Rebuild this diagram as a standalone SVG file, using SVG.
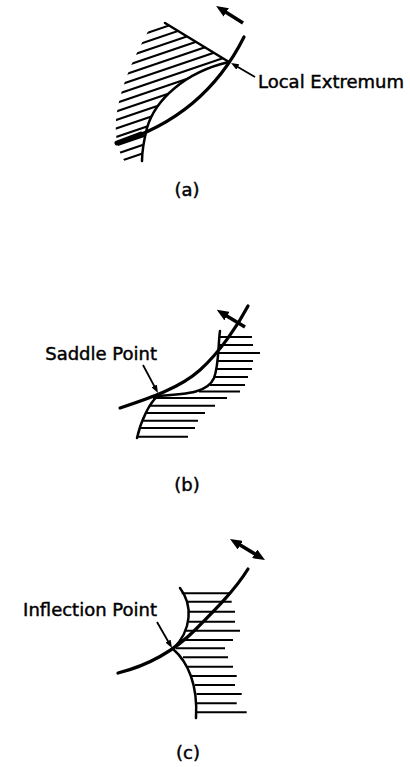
<svg xmlns="http://www.w3.org/2000/svg" width="410" height="767" viewBox="0 0 410 767">
<style>
.curve{fill:none;stroke:#000;stroke-width:3.2;stroke-linecap:round}
.bound{fill:none;stroke:#000;stroke-width:2.5;stroke-linecap:round}
.hatch{stroke:#000;stroke-width:2;fill:none}
.arrow{stroke:#000;stroke-width:3.5;fill:none}
.leader{stroke:#000;stroke-width:1.8;fill:none}
text{font-family:"DejaVu Sans","Liberation Sans",sans-serif;font-size:18px;fill:#000;stroke:#000;stroke-width:0.45}
</style>
<defs>
<marker id="bigHead" viewBox="0 0 12 10" markerWidth="12" markerHeight="10" refX="5" refY="5" orient="auto-start-reverse" markerUnits="userSpaceOnUse">
<path d="M0,0 L12,5 L0,10 Z" fill="#000"/>
</marker>
<marker id="smallHead" viewBox="0 0 8 6" markerWidth="8" markerHeight="6" refX="3" refY="3" orient="auto" markerUnits="userSpaceOnUse">
<path d="M0,0 L8,3 L0,6 Z" fill="#000"/>
</marker>
<clipPath id="clipA">
<path d="M165,23 L229,62 C185,72 155,100 147,128 C144,140 142,150 142,162 L125,162 C117,150 115,135 116,120 C120,85 135,55 150,28 Z"/>
</clipPath>
</defs>

<g id="panel-a">
<g id="hatch-a" class="hatch" clip-path="url(#clipA)">
<line x1="100" y1="49" x2="240" y2="1.4"/>
<line x1="100" y1="57.5" x2="240" y2="9.9"/>
<line x1="100" y1="66" x2="240" y2="18.4"/>
<line x1="100" y1="74.5" x2="240" y2="26.9"/>
<line x1="100" y1="83" x2="240" y2="35.4"/>
<line x1="100" y1="91.5" x2="240" y2="43.9"/>
<line x1="100" y1="100" x2="240" y2="52.4"/>
<line x1="100" y1="108.5" x2="240" y2="60.9"/>
<line x1="100" y1="117" x2="240" y2="69.4"/>
<line x1="100" y1="125.5" x2="240" y2="77.9"/>
<line x1="100" y1="134" x2="240" y2="86.4"/>
<line x1="100" y1="142.5" x2="240" y2="94.9"/>
<line x1="100" y1="151" x2="240" y2="103.4"/>
<line x1="100" y1="159.5" x2="240" y2="111.9"/>
<line x1="100" y1="168" x2="240" y2="120.4"/>
</g>
<line class="bound" x1="165" y1="23" x2="229" y2="62"/>
<path class="bound" d="M229,62 C185,72 155,100 147,128 C144,140 142,150 142,161"/>
<path class="curve" d="M117,143 C170,127 215,95 244,37"/>
<line x1="117" y1="143" x2="141" y2="134" stroke="#000" stroke-width="5" stroke-linecap="round"/>
</g>

<g id="panel-b">
<g id="hatch-b" class="hatch">
<line x1="219.5" y1="337" x2="252" y2="337"/>
<line x1="218.7" y1="345" x2="253" y2="345"/>
<line x1="218.5" y1="353" x2="260" y2="353"/>
<line x1="218" y1="361" x2="253" y2="361"/>
<line x1="217" y1="369" x2="252" y2="369"/>
<line x1="214.5" y1="377" x2="248" y2="377"/>
<line x1="210" y1="385" x2="245" y2="385"/>
<line x1="199" y1="391.5" x2="240" y2="391.5"/>
<line x1="153" y1="398" x2="227" y2="398"/>
<line x1="149.5" y1="405.7" x2="215" y2="405.7"/>
<line x1="145.5" y1="413" x2="205" y2="413"/>
<line x1="142" y1="420.7" x2="198" y2="420.7"/>
<line x1="140" y1="428" x2="195" y2="428"/>
<line x1="138" y1="436.7" x2="188" y2="436.7"/>
</g>
<path class="bound" d="M220,331 C218,345 219,365 214,378 C208,392 190,394 158,396 C150,402 141,420 137,438"/>
<path class="curve" d="M120,408 C150,398 180,388 200,370 C220,352 238,325 248,306"/>
</g>

<g id="panel-c">
<g id="hatch-c" class="hatch">
<line x1="181.7" y1="593.3" x2="230" y2="593.3"/>
<line x1="187" y1="601.7" x2="231.7" y2="601.7"/>
<line x1="189" y1="611.7" x2="235" y2="611.7"/>
<line x1="188.5" y1="621.7" x2="235" y2="621.7"/>
<line x1="186" y1="630.7" x2="240" y2="630.7"/>
<line x1="180" y1="640" x2="233" y2="640"/>
<line x1="176" y1="648.3" x2="225" y2="648.3"/>
<line x1="183" y1="657.3" x2="228" y2="657.3"/>
<line x1="188" y1="666.7" x2="233" y2="666.7"/>
<line x1="192" y1="676" x2="236.7" y2="676"/>
<line x1="195" y1="685" x2="235" y2="685"/>
<line x1="196.5" y1="694" x2="241.7" y2="694"/>
<line x1="197" y1="703.3" x2="236.7" y2="703.3"/>
<line x1="196" y1="712.3" x2="246.7" y2="712.3"/>
</g>
<path class="bound" d="M180,588 C193,605 192,630 173,649 C188,662 198,685 196,718"/>
<path class="curve" d="M118,673 C150,665 175,650 195,630 C215,610 235,590 248,569"/>
</g>

<g id="connectors">
<line class="arrow" x1="243" y1="23" x2="222" y2="9.7" marker-end="url(#bigHead)"/>
<line class="arrow" x1="245" y1="327" x2="222.7" y2="313.5" marker-end="url(#bigHead)"/>
<line class="arrow" x1="236" y1="542.6" x2="259" y2="556.4" marker-start="url(#bigHead)" marker-end="url(#bigHead)"/>
<line class="leader" x1="255" y1="77" x2="235.3" y2="65.5" marker-end="url(#smallHead)"/>
<line class="leader" x1="143" y1="365" x2="155.6" y2="388.6" marker-end="url(#smallHead)"/>
<line class="leader" x1="157" y1="622" x2="169.5" y2="643.7" marker-end="url(#smallHead)"/>
</g>

<g id="labels">
<text id="label-local-extremum" x="258" y="88">Local Extremum</text>
<text id="label-saddle" x="157" y="360" text-anchor="end">Saddle Point</text>
<text id="label-inflection" x="157" y="616" text-anchor="end">Inflection Point</text>
<text id="label-a" x="187" y="196" text-anchor="middle">(a)</text>
<text id="label-b" x="187" y="491" text-anchor="middle">(b)</text>
<text id="label-c" x="188" y="759" text-anchor="middle">(c)</text>
</g>
</svg>
